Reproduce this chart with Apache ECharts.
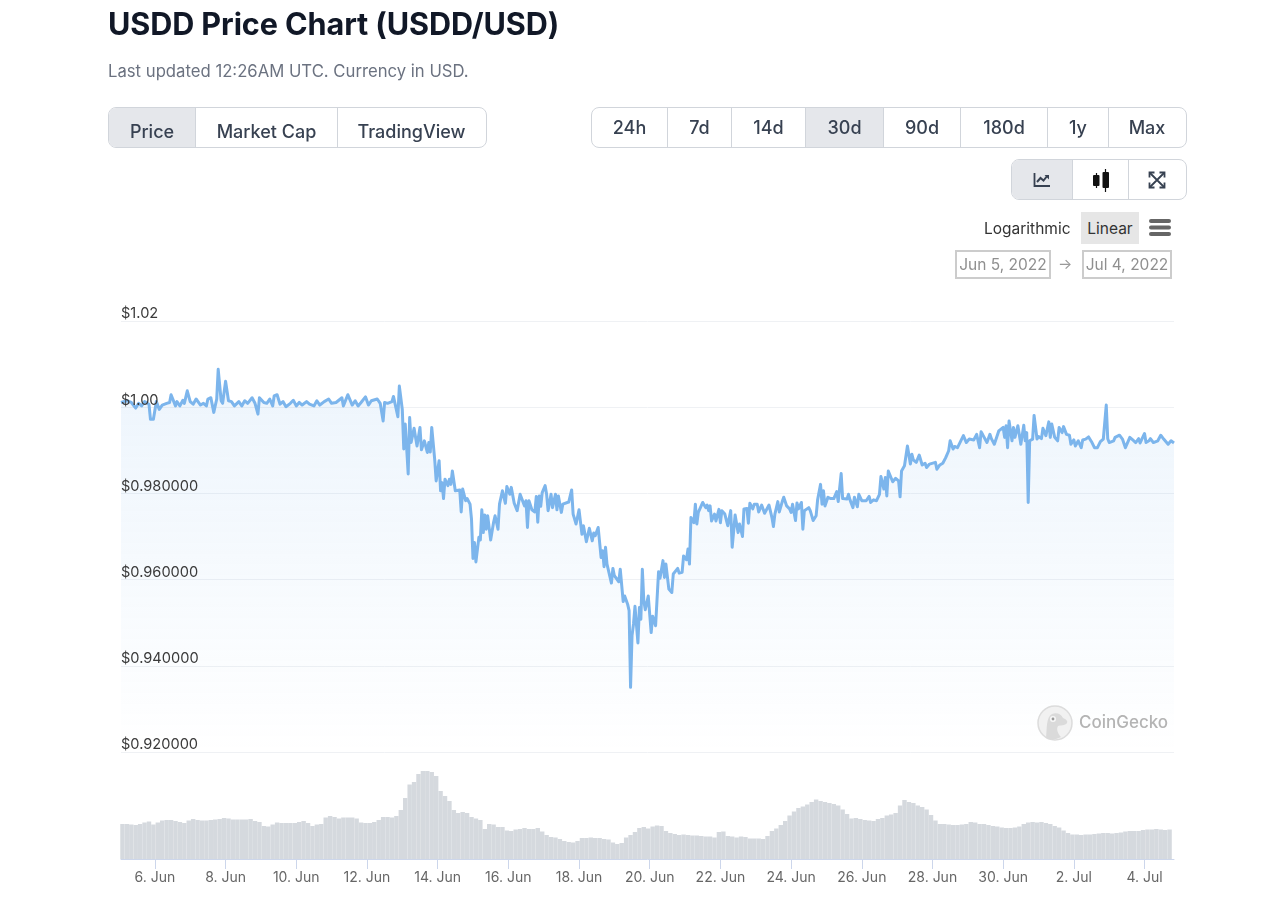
<!DOCTYPE html>
<html>
<head>
<meta charset="utf-8">
<script src="https://cdn.jsdelivr.net/npm/echarts@6/dist/echarts.min.js"></script>
<style>
html,body{margin:0;padding:0;background:#fff;width:1280px;height:900px;overflow:hidden;font-family:Inter,"Noto Sans",sans-serif}
#chart{position:absolute;left:0;top:0;width:1280px;height:900px}
.t{position:absolute;white-space:nowrap}
h1{position:absolute;margin:0;left:108px;top:5px;font-size:30.6px;line-height:38px;font-weight:700;color:#111827;letter-spacing:-.1px;white-space:nowrap}
.sub{left:108px;top:61px;font-size:16.7px;line-height:20px;color:#6b7280}
.grp{position:absolute;display:flex;box-sizing:border-box;height:41px;border:1.5px solid #d1d5db;border-radius:8px;overflow:hidden;background:#fff}
.grp div{box-sizing:border-box;display:flex;align-items:center;justify-content:center;border-left:1.5px solid #d1d5db;font-size:18px;font-weight:500;color:#374151}
.grp div:first-child{border-left:0}
.grp div.on{background:#e5e7eb}
.box{position:absolute;box-sizing:border-box;border:2px solid #ccc;height:29px;top:250px;display:flex;align-items:center;justify-content:center;font-size:15.5px;color:#8f8f8f;white-space:nowrap}
</style>
</head>
<body>
<div id="chart"></div>
<h1>USDD Price Chart (USDD/USD)</h1>
<div class="t sub">Last updated 12:26AM UTC. Currency in USD.</div>
<div class="grp" style="left:108px;top:107px;width:379px">
  <div class="on" style="width:86px;padding-top:7px">Price</div><div style="width:142px;padding-top:7px">Market Cap</div><div style="width:148px;padding-top:7px">TradingView</div>
</div>
<div class="grp" style="left:591px;top:107px;width:596px">
  <div style="width:75px">24h</div><div style="width:64px">7d</div><div style="width:74px">14d</div><div class="on" style="width:78px">30d</div><div style="width:77px">90d</div><div style="width:87px">180d</div><div style="width:61px">1y</div><div style="width:77px">Max</div>
</div>
<div class="grp" style="left:1011px;top:159px;width:176px">
  <div class="on" style="width:60px"><svg width="18" height="16" viewBox="0 0 18 16"><path d="M1.5 1v13h15.5" fill="none" stroke="#374151" stroke-width="1.8"/><path d="M4 10l3.5-4 3 2.5 4-5" fill="none" stroke="#374151" stroke-width="2"/><path d="M11.5 3h4.5v4.5z" fill="#374151"/></svg></div>
  <div style="width:56px"><svg width="18" height="24" viewBox="0 0 18 24"><path d="M4.5 5v15M13.5 1v23" stroke="#111" stroke-width="1.2"/><rect x="1" y="7" width="6.5" height="11" rx="1" fill="#111"/><rect x="10.5" y="4" width="6.5" height="16" rx="1" fill="#111"/></svg></div>
  <div style="width:57px"><svg width="18" height="18" viewBox="0 0 18 18"><g fill="none" stroke="#374151" stroke-width="1.8"><path d="M2 2l14 14M16 2L2 16"/><path d="M1.5 6.5v-5h5M11.5 1.5h5v5M16.5 11.5v5h-5M6.5 16.5h-5v-5"/></g></svg></div>
</div>
<div class="t" style="left:984px;top:219px;font-size:15.5px;line-height:20px;color:#333">Logarithmic</div>
<div class="t" style="left:1081px;top:212px;width:58px;height:32px;background:#e6e6e6;font-size:15.5px;line-height:34px;text-align:center;color:#333">Linear</div>
<svg style="position:absolute;left:1149px;top:219px" width="22" height="17"><g fill="#666"><rect y="0" width="22" height="4" rx="2"/><rect y="6.5" width="22" height="4" rx="2"/><rect y="13" width="22" height="4" rx="2"/></g></svg>
<div class="box" style="left:955px;width:96px">Jun 5, 2022</div>
<div class="t" style="left:1058px;top:254px;font-size:15px;line-height:20px;color:#999">→</div>
<div class="box" style="left:1082px;width:90px">Jul 4, 2022</div>
<svg style="position:absolute;left:1037px;top:705px" width="36" height="36" viewBox="0 0 36 36"><circle cx="18" cy="18" r="17" fill="#f1f1f1" stroke="#dcdcdc" stroke-width="1.5"/><path d="M9 33C10 24 9 12 15 9c5-2 9 0 11 4 3 1 5 3 4 5-2 3-7 2-9 3-2 3 0 8 3 11-5 3-11 3-15 1z" fill="#dadada"/><circle cx="16" cy="14" r="3" fill="#f7f7f7"/><circle cx="16" cy="14" r="1.4" fill="#9a9a9a"/></svg>
<div class="t" style="left:1079px;top:711px;font-size:17px;line-height:22px;font-weight:500;color:#b4b4b4">CoinGecko</div>
<script>
// Hours counted from 5 Jun 2022 00:00 UTC
const priceHours = [1,5,8,11,13,15,17,20,21,23,25,27,29,32,34,35,38,39,41,43,44,46,48,50,52,55,57,59,60,62,64,66,67,69,70,72,74,76,78,81,83,85,87,90,92,94,95,98,100,102,104,105,107,109,111,113,116,118,120,122,124,127,129,132,134,136,139,142,144,147,151,152,155,158,160,162,164,167,169,171,175,177,179,180,182,185,186,189,190,
192,193,194,196,197,198,199,200,202,204,205,207,209,210,211,212,214,215,217,218,219,220,221,223,224,225,226,228,231,232,233,235,236,238,239,240,241,242,244,245,246,247,248,249,250,252,254,255,257,258,260,262,263,265,266,268,270,272,273,275,276,277,278,280,282,283,284,285,286,287,288,289,290,291,293,294,296,297,298,300,301,305,307,308,310,312,314,315,317,319,321,322,323,325,
327,328,329,330,331,334,335,336,339,340,342,343,345,346,347,348,349,350,352,353,354,355,356,357,359,361,362,364,366,367,369,370,371,373,375,376,379,380,382,383,385,386,387,388,390,391,392,393,396,398,399,400,401,402,404,405,407,408,409,411,413,415,416,418,420,
421,422,423,424,426,427,428,430,431,433,434,436,438,439,441,443,444,445,447,448,450,451,453,455,456,457,459,460,461,463,464,465,468,469,471,473,474,476,477,478,479,481,483,485,487,488,490,491,494,495,496,498,499,501,502,504,507,509,510,512,514,516,517,518,519,520,521,522,523,525,527,529,530,531,533,534,535,537,538,539,541,543,545,547,548,550,551,554,555,557,559,561,563,564,566,567,569,
571,573,575,577,580,582,584,585,586,589,591,592,594,597,600,601,602,603,604,606,607,608,610,612,614,615,616,617,618,620,621,623,624,626,627,629,631,632,633,635,637,638,640,641,643,645,646,648,649,651,653,654,656,658,660,662,664,666,668,669,670,671,672,675,676,679,681,683,685,686,688,690,692,693,696,697,699,700,702,705,707,709,712,714,716];
const priceValues = [1.0011,1.0015,1.0011,.9998,1.0009,1.0003,1.0013,1.0007,.9972,.9972,1.0013,.9995,1.0005,1.0009,1.0011,1.0029,1.0003,1.0013,1.0003,1.0016,1.0009,1.0038,1.0013,1.0007,1.0019,1.0005,1.0009,1.0003,1.0019,1.0022,.9988,1.0019,1.0088,1.0015,1.0009,1.0060,1.0015,1.0013,1.0003,1.0013,1.0003,1.0015,1.0009,1.0022,1.0009,.9984,1.0022,1.0011,1.0009,1.0019,1.0003,1.0026,1.0029,1.0007,1.0013,1.0001,1.0009,1.0016,1.0003,1.0011,1.0005,1.0013,1.0007,1.0003,1.0015,1.0005,1.0013,1.0019,1.0009,1.0011,1.0022,1.0003,1.0029,1.0005,1.0015,1.0003,1.0011,1.0024,1.0005,1.0015,1.0019,1.0009,.9968,1.0011,1.0009,1.0013,1.0025,.9978,1.0049,
.9995,.9903,.9961,.9845,.9976,.9918,.9922,.9951,.9910,.9953,.9901,.9922,.9895,.9918,.9896,.9953,.9879,.9829,.9876,.9806,.9825,.9788,.9833,.9818,.9833,.9821,.9852,.9806,.9808,.9757,.9810,.9783,.9788,.9775,.9740,.9649,.9686,.9641,.9698,.9692,.9762,.9709,.9750,.9717,.9748,.9692,.9733,.9748,.9717,.9775,.9806,.9777,.9816,.9798,.9814,.9777,.9760,.9798,.9794,.9771,.9783,.9721,.9783,.9762,.9757,.9793,.9733,.9794,.9770,.9802,.9798,.9818,.9798,.9760,.9798,.9767,.9798,.9762,.9794,.9756,.9775,.9780,.9808,.9752,.9729,.9762,.9705,.9725,.9688,.9719,.9690,.9708,.9702,.9721,
.9651,.9667,.9630,.9675,.9636,.9592,.9626,.9609,.9595,.9624,.9549,.9562,.9543,.9528,.9350,.9470,.9497,.9538,.9453,.9535,.9508,.9624,.9551,.9530,.9562,.9477,.9515,.9493,.9618,.9603,.9644,.9605,.9636,.9578,.9570,.9613,.9626,.9615,.9617,.9655,.9646,.9671,.9636,.9744,.9732,.9775,.9729,.9756,.9779,.9767,.9773,.9760,.9771,.9736,.9752,.9736,.9763,.9732,.9760,.9752,.9725,.9760,.9675,.9750,.9709,
.9729,.9733,.9700,.9764,.9765,.9731,.9777,.9764,.9775,.9775,.9757,.9773,.9754,.9757,.9773,.9744,.9723,.9752,.9781,.9757,.9781,.9791,.9771,.9764,.9756,.9775,.9737,.9778,.9764,.9779,.9717,.9760,.9767,.9760,.9737,.9748,.9785,.9821,.9775,.9806,.9771,.9791,.9788,.9788,.9804,.9781,.9846,.9788,.9787,.9798,.9785,.9767,.9791,.9769,.9798,.9783,.9783,.9793,.9779,.9785,.9783,.9798,.9839,.9837,.9810,.9837,.9794,.9852,.9848,.9827,.9835,.9829,.9792,.9852,.9864,.9868,.9910,.9868,.9891,.9878,.9872,.9889,.9866,.9870,.9860,.9868,.9868,.9872,.9856,.9866,.9870,.9883,.9899,.9922,.9903,.9909,.9906,
.9920,.9934,.9918,.9926,.9924,.9937,.9906,.9943,.9937,.9918,.9937,.9927,.9914,.9945,.9953,.9930,.9957,.9906,.9968,.9922,.9953,.9930,.9957,.9914,.9958,.9922,.9941,.9779,.9922,.9926,.9981,.9926,.9932,.9927,.9951,.9934,.9966,.9930,.9961,.9930,.9922,.9953,.9941,.9955,.9937,.9935,.9914,.9924,.9910,.9922,.9906,.9924,.9926,.9931,.9920,.9906,.9906,.9920,.9926,.9927,1.0005,.9927,.9918,.9922,.9930,.9935,.9926,.9906,.9922,.9930,.9924,.9918,.9927,.9917,.9939,.9918,.9922,.9927,.9918,.9922,.9935,.9926,.9914,.9922,.9917];
// Volume, one value per three hours (relative units)
const volumeValues = [35,35,34.5,34,35,36.5,37.5,34.5,36.5,38.5,39,39,38,37,36,38.5,40,39,38.5,38.5,39,39.5,40,41,40.5,39.5,39.5,39.5,39.5,40,38,37,33,32.5,34.5,36.5,36,36,36,36,37,38,36,33,34.5,35,41.5,43,42,40.5,41.5,41.5,41.5,40.5,36.5,36,36,37,39,42,42,41.5,43,49,61,74.5,77,85,88,88,87,83,68,63,58,49,46,47,46,42,40.5,39,30,35,34.5,32,32,28.5,28,29.5,30,31,30,30,31,27.5,24,22,21.5,20,18,17,16.5,18,21,21,21.5,21,21,20,19.5,16.5,15,16,21.5,24,27,31,32,
30.5,32.5,33.5,33,28,26,25,24,24.5,24,23.5,23.5,23,22.5,22.5,21.5,27,27.5,23,22.5,21.5,22.5,22,20.5,20.5,20.5,20,23,28,30.5,34,38,43.5,47.5,51,52.5,54.5,57,59.5,58,57,56,55,53.5,49.5,45,40.5,41,40,39,38.5,38,40,41,43.5,44.5,46,53.5,59,57,56,53.5,52,49.5,44,38.5,35,35,34.5,34,34,34.5,35,37,36.5,35,35,34,33,32.5,31.5,31,31,31.5,32.5,35,36.5,37,36.5,37,36,35,33,31.5,28.5,26,24.5,24.5,24,24.5,24.5,25,25.5,26,26,25.5,26,26.5,27.5,28,28,28,29,29.5,29.5,30,29.5,29,29.5];
const tickHours = [24,72,120,168,216,264,312,360,408,456,504,552,600,648,696];
const tickLabels = ['6. Jun','8. Jun','10. Jun','12. Jun','14. Jun','16. Jun','18. Jun','20. Jun','22. Jun','24. Jun','26. Jun','28. Jun','30. Jun','2. Jul','4. Jul'];
const yTicks = [0.92,0.94,0.96,0.98,1.00,1.02];
const yLabels = ['$0.920000','$0.940000','$0.960000','$0.980000','$1.00','$1.02'];

const FONT = 'Inter';
const chart = echarts.init(document.getElementById('chart'), null, {width:1280, height:900});
const hMin = 1, hMax = 716;
const gl = {left:121, width:1053};
chart.setOption({
  animation:false,
  backgroundColor:'transparent',
  grid:[
    {left:gl.left, width:gl.width, top:321, height:431},
    {left:gl.left, width:gl.width, top:759, height:100}
  ],
  xAxis:[
    {type:'value', gridIndex:0, min:hMin, max:hMax, show:false, splitLine:{show:false}},
    {type:'value', gridIndex:1, min:hMin, max:hMax, splitLine:{show:false},
     axisLine:{show:true, lineStyle:{color:'#ccd6eb', width:1}},
     axisTick:{show:true, length:10, lineStyle:{color:'#ccd6eb', width:1}, customValues:tickHours},
     axisLabel:{show:true, color:'#666', fontFamily:FONT, fontSize:14, margin:12, customValues:tickHours,
       formatter:function(v){return tickLabels[tickHours.indexOf(v)]||'';}}}
  ],
  yAxis:[
    {type:'value', gridIndex:0, min:0.92, max:1.02, interval:0.02, z:0,
     axisLine:{show:false}, axisTick:{show:false}, axisLabel:{show:false},
     splitLine:{show:true, lineStyle:{color:'#eff1f4', width:1}}},
    {type:'value', gridIndex:0, min:0.92, max:1.02, interval:0.02, z:10, position:'left',
     axisLine:{show:false}, axisTick:{show:false}, splitLine:{show:false},
     axisLabel:{show:true, inside:true, margin:0, align:'left', verticalAlign:'bottom', color:'#3a3a3a', fontFamily:FONT, fontSize:14.6, lineHeight:14,
       padding:[0,0,0,0],
       formatter:function(v){let i=yTicks.findIndex(t=>Math.abs(t-v)<1e-6);return yLabels[i];}}},
    {type:'value', gridIndex:1, min:0, max:100, show:false, splitLine:{show:false}}
  ],
  series:[
    {type:'line', xAxisIndex:0, yAxisIndex:0, z:3, showSymbol:false, symbol:'none', sampling:null,
     data:priceHours.map((h,i)=>[h,priceValues[i]]),
     lineStyle:{color:'#7cb5ec', width:3, join:'round'},
     itemStyle:{color:'#7cb5ec'},
     areaStyle:{color:new echarts.graphic.LinearGradient(0,0,0,1,[
       {offset:0,color:'rgba(124,181,236,0.2)'},{offset:1,color:'rgba(124,181,236,0.0)'}])}},
    {type:'bar', xAxisIndex:1, yAxisIndex:2, barWidth:4.42, silent:true,
     data:volumeValues.map((v,i)=>[2+3*i,v]),
     itemStyle:{color:'#d5d9de'}}
  ]
});
</script>
</body>
</html>
